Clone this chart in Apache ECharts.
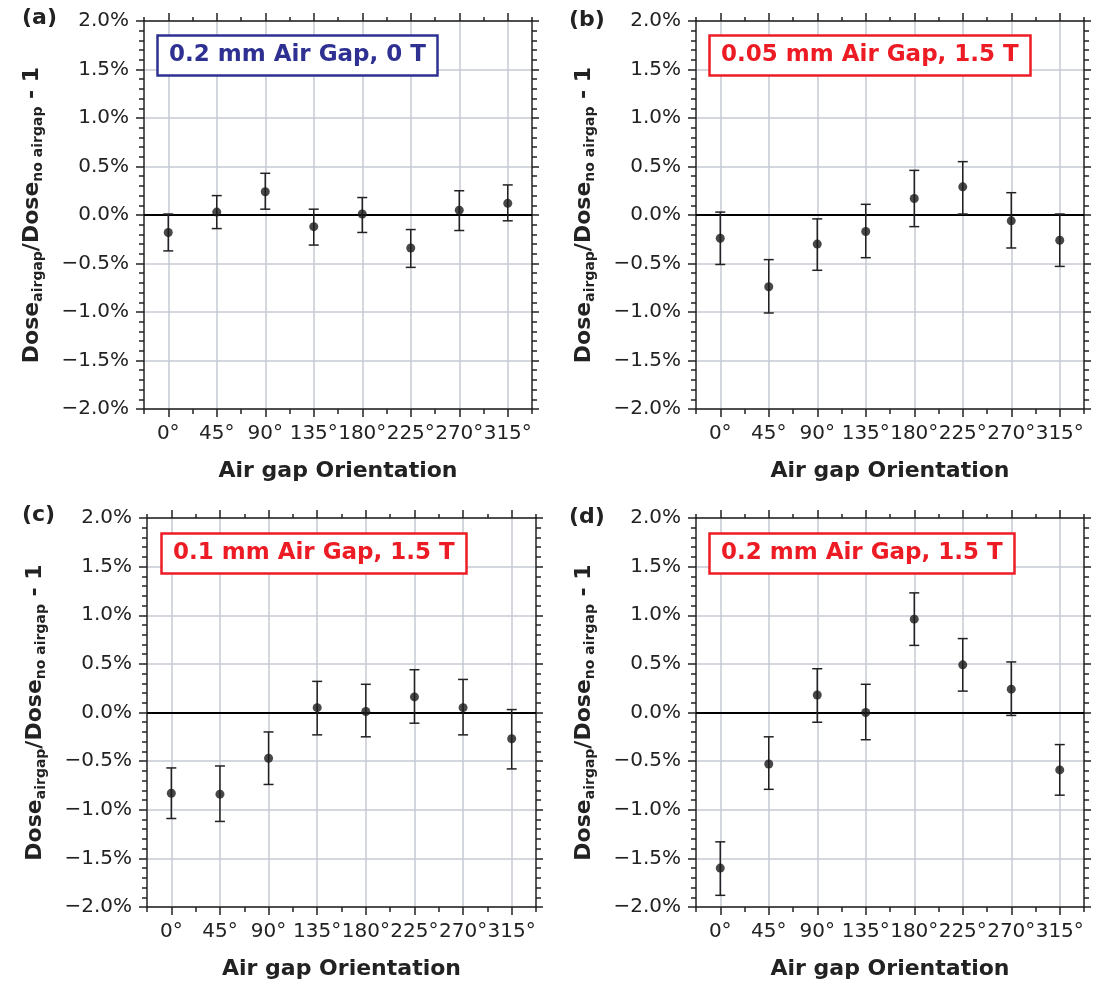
<!DOCTYPE html>
<html>
<head>
<meta charset="utf-8">
<script src="https://cdn.jsdelivr.net/npm/echarts@6/dist/echarts.min.js"></script>
<style>
  html, body { margin: 0; padding: 0; background: #fff; }
  #chart { width: 1097px; height: 988px; }
</style>
</head>
<body>
<div id="chart"></div>
<script>
// Orientation categories shared by all four panels
const angles = ['0°', '45°', '90°', '135°', '180°', '225°', '270°', '315°'];

// (a) 0.2 mm air gap, 0 T
const meanA = [-0.18, 0.03, 0.24, -0.12, 0.01, -0.34, 0.05, 0.12];
const lowA  = [-0.37, -0.14, 0.06, -0.31, -0.18, -0.54, -0.16, -0.06];
const highA = [0.01, 0.20, 0.43, 0.06, 0.18, -0.15, 0.25, 0.31];

// (b) 0.05 mm air gap, 1.5 T
const meanB = [-0.24, -0.74, -0.30, -0.17, 0.17, 0.29, -0.06, -0.26];
const lowB  = [-0.51, -1.01, -0.57, -0.44, -0.12, 0.01, -0.34, -0.53];
const highB = [0.03, -0.46, -0.04, 0.11, 0.46, 0.55, 0.23, 0.01];

// (c) 0.1 mm air gap, 1.5 T
const meanC = [-0.83, -0.84, -0.47, 0.05, 0.01, 0.16, 0.05, -0.27];
const lowC  = [-1.09, -1.12, -0.74, -0.23, -0.25, -0.11, -0.23, -0.58];
const highC = [-0.57, -0.55, -0.20, 0.32, 0.29, 0.44, 0.34, 0.03];

// (d) 0.2 mm air gap, 1.5 T
const meanD = [-1.60, -0.53, 0.18, 0.00, 0.96, 0.49, 0.24, -0.59];
const lowD  = [-1.88, -0.79, -0.10, -0.28, 0.69, 0.22, -0.03, -0.85];
const highD = [-1.33, -0.25, 0.45, 0.29, 1.23, 0.76, 0.52, -0.33];

// Panel captions and letters
const panelLetters = ['(a)', '(b)', '(c)', '(d)'];
const panelTitles = ['0.2 mm Air Gap, 0 T', '0.05 mm Air Gap, 1.5 T', '0.1 mm Air Gap, 1.5 T', '0.2 mm Air Gap, 1.5 T'];
const yTicks = { min: -2, max: 2, step: 0.5 };
const xTitle = 'Air gap Orientation';

const FONT = 'DejaVu Sans';
const INK = '#222';
const GRIDC = '#c6cad3';
const BLUE = '#2e3192';
const RED = '#ed1c24';

const panels = [
  { mean: meanA, low: lowA, high: highA, color: BLUE, grid: { left: 144, top: 21, width: 388, height: 388 }, box: { left: 157, top: 35 }, letter: [22, 7] },
  { mean: meanB, low: lowB, high: highB, color: RED,  grid: { left: 696, top: 21, width: 388, height: 388 }, box: { left: 709, top: 35 }, letter: [569, 9] },
  { mean: meanC, low: lowC, high: highC, color: RED,  grid: { left: 147, top: 518, width: 389, height: 389 }, box: { left: 161, top: 533 }, letter: [22, 504] },
  { mean: meanD, low: lowD, high: highD, color: RED,  grid: { left: 696, top: 518, width: 388, height: 389 }, box: { left: 709, top: 533 }, letter: [569, 506] }
];

const fmtPct = v => (v < 0 ? '\u2212' : '') + Math.abs(v).toFixed(1) + '%';
const tickLine = { color: INK, width: 1.5 };

const grids = [], xAxes = [], yAxes = [], series = [], titles = [], graphics = [];

panels.forEach((p, i) => {
  grids.push(p.grid);
  const xBase = xAxes.length;
  const yBase = yAxes.length;

  // bottom axis: labels, major ticks at category centres, vertical grid lines
  xAxes.push({
    gridIndex: i, type: 'category', data: angles, position: 'bottom', boundaryGap: true,
    name: xTitle, nameLocation: 'middle', nameGap: 49,
    nameTextStyle: { fontFamily: FONT, fontWeight: 'bold', fontSize: 22, color: INK, lineHeight: 26 },
    axisLine: { show: true, onZero: false, lineStyle: tickLine },
    axisTick: { show: true, interval: 0, alignWithLabel: true, length: 8, lineStyle: tickLine },
    axisLabel: { interval: 0, margin: 15, fontFamily: FONT, fontSize: 20, color: INK },
    splitLine: { show: true, interval: 0, alignWithLabel: true, lineStyle: { color: GRIDC, width: 1.5 } }
  });
  // bottom minor ticks at band boundaries
  xAxes.push({
    gridIndex: i, type: 'category', data: angles, position: 'bottom', boundaryGap: true,
    axisLine: { show: false, onZero: false },
    axisTick: { show: true, interval: 0, length: 5, lineStyle: tickLine },
    axisLabel: { show: false }, splitLine: { show: false }
  });
  // top major ticks
  xAxes.push({
    gridIndex: i, type: 'category', data: angles, position: 'top', boundaryGap: true,
    axisLine: { show: true, onZero: false, lineStyle: tickLine },
    axisTick: { show: true, interval: 0, alignWithLabel: true, length: 8, lineStyle: tickLine },
    axisLabel: { show: false }, splitLine: { show: false }
  });
  // top minor ticks
  xAxes.push({
    gridIndex: i, type: 'category', data: angles, position: 'top', boundaryGap: true,
    axisLine: { show: false, onZero: false },
    axisTick: { show: true, interval: 0, length: 4, lineStyle: tickLine },
    axisLabel: { show: false }, splitLine: { show: false }
  });

  const yCommon = {
    gridIndex: i, type: 'value', min: yTicks.min, max: yTicks.max, interval: yTicks.step
  };
  yAxes.push(Object.assign({}, yCommon, {
    position: 'left',
    name: '{b|Dose}{s|airgap}{b|/Dose}{s|no airgap}{b| - 1}',
    nameLocation: 'middle', nameRotate: 90, nameGap: 99,
    nameTextStyle: {
      color: INK,
      rich: {
        b: { fontFamily: FONT, fontWeight: 'bold', fontSize: 22, lineHeight: 26, color: INK },
        s: { fontFamily: FONT, fontWeight: 'bold', fontSize: 14, lineHeight: 14, verticalAlign: 'bottom', color: INK }
      }
    },
    axisLine: { show: true, onZero: false, lineStyle: tickLine },
    axisTick: { show: true, length: 8, lineStyle: tickLine },
    minorTick: { show: true, splitNumber: 5, length: 5, lineStyle: tickLine },
    axisLabel: { margin: 15, fontFamily: FONT, fontSize: 20, color: INK, formatter: fmtPct },
    splitLine: { show: true, lineStyle: { color: GRIDC, width: 1.5 } }
  }));
  yAxes.push(Object.assign({}, yCommon, {
    position: 'right',
    axisLine: { show: true, onZero: false, lineStyle: tickLine },
    axisTick: { show: true, length: 7, lineStyle: tickLine },
    minorTick: { show: true, splitNumber: 5, length: 5, lineStyle: tickLine },
    axisLabel: { show: false }, splitLine: { show: false }
  }));

  // error bars with caps
  series.push({
    type: 'custom',
    xAxisIndex: xBase, yAxisIndex: yBase,
    data: angles.map((a, k) => [k, p.low[k], p.high[k]]),
    z: 4,
    renderItem: (params, api) => {
      const lo = api.coord([api.value(0), api.value(1)]);
      const hi = api.coord([api.value(0), api.value(2)]);
      const cap = 5;
      const st = { stroke: INK, lineWidth: 1.5 };
      return {
        type: 'group',
        children: [
          { type: 'line', shape: { x1: lo[0], y1: lo[1], x2: hi[0], y2: hi[1] }, style: st },
          { type: 'line', shape: { x1: lo[0] - cap, y1: lo[1], x2: lo[0] + cap, y2: lo[1] }, style: st },
          { type: 'line', shape: { x1: hi[0] - cap, y1: hi[1], x2: hi[0] + cap, y2: hi[1] }, style: st }
        ]
      };
    }
  });
  // mean points with the zero reference line
  series.push({
    type: 'scatter',
    xAxisIndex: xBase, yAxisIndex: yBase,
    data: angles.map((a, k) => [k, p.mean[k]]),
    symbol: 'circle', symbolSize: 9,
    itemStyle: { color: '#1a1a1a' },
    z: 5,
    markLine: {
      silent: true, symbol: 'none',
      label: { show: false },
      lineStyle: { color: '#000', width: 1.8, type: 'solid' },
      data: [{ yAxis: 0 }],
      z: 3
    }
  });

  titles.push({
    text: panelTitles[i],
    left: p.box.left, top: p.box.top,
    padding: [7, 12, 7, 12],
    borderColor: p.color, borderWidth: 2.5,
    backgroundColor: '#fff',
    textStyle: { fontFamily: FONT, fontWeight: 'bold', fontSize: 23, lineHeight: 27, color: p.color }
  });

  graphics.push({
    type: 'text', left: p.letter[0], top: p.letter[1],
    style: { text: panelLetters[i], font: 'bold 22px "' + FONT + '"', fill: INK }
  });
});

const chart = echarts.init(document.getElementById('chart'), null, { renderer: 'canvas' });
chart.setOption({
  animation: false,
  backgroundColor: '#fff',
  title: titles,
  grid: grids,
  xAxis: xAxes,
  yAxis: yAxes,
  series: series,
  graphic: graphics
});
</script>
</body>
</html>
